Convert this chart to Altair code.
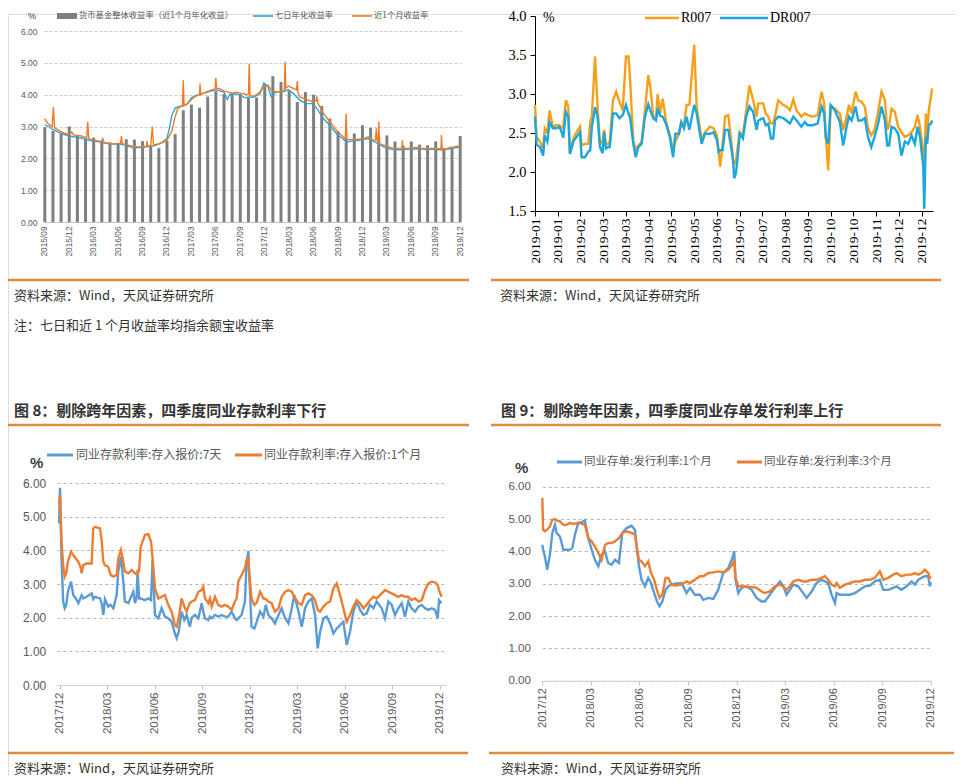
import altair as alt
import pandas as pd

# ---------------- data ----------------
# Panel 1: money-market fund yields (x = months since 2015/09)
p1_names = ["货币基金整体收益率（近1个月年化收益）", "七日年化收益率", "近1个月收益率"]
p1_months = list(range(52))
p1_bar = [2.98, 2.86, 2.77, 3.00, 2.73, 2.62, 2.65, 2.56, 2.50, 2.47,
          2.60, 2.59, 2.54, 2.38, 2.32, 2.55, 2.76, 3.51, 3.69, 3.59,
          3.94, 4.11, 4.02, 4.03, 4.00, 3.90, 3.91, 4.30, 4.58, 4.40,
          4.12, 3.77, 4.08, 4.00, 3.65, 3.25, 2.85, 2.62, 2.78, 3.04,
          2.96, 2.66, 2.72, 2.53, 2.40, 2.53, 2.43, 2.41, 2.53, 2.32,
          2.30, 2.70]
p1_seven = [(0, 3.05), (0.5, 3.0), (1.0, 2.9), (1.5, 2.85), (2.0, 2.78), (2.5, 2.74), (3.0, 2.7), (3.5, 2.68),
            (4.0, 2.66), (4.5, 2.64), (5.0, 2.6), (5.5, 2.57), (6.0, 2.55), (6.5, 2.53), (7.0, 2.5), (7.5, 2.47),
            (8.0, 2.45), (8.5, 2.45), (9.0, 2.45), (9.5, 2.44), (10.0, 2.4), (10.5, 2.36), (11.0, 2.32), (11.5, 2.34),
            (12.0, 2.35), (12.5, 2.36), (13.0, 2.38), (13.5, 2.4), (14.0, 2.45), (14.5, 2.52), (15.0, 2.62), (15.3, 2.95),
            (15.6, 3.35), (16.0, 3.58), (16.5, 3.63), (17.0, 3.65), (17.5, 3.72), (18.0, 3.9), (18.5, 3.97), (19.0, 4.0),
            (19.5, 4.05), (20.0, 4.08), (20.5, 4.12), (21.0, 4.15), (21.5, 4.12), (22.0, 4.08), (22.4, 3.85), (22.7, 4.0),
            (23.0, 4.03), (23.5, 4.02), (24.0, 4.0), (24.5, 3.9), (25.0, 3.93), (25.6, 3.92), (26.4, 4.02), (26.9, 4.37),
            (27.4, 4.25), (27.8, 3.93), (28.4, 4.09), (29.3, 4.1), (29.9, 4.16), (30.5, 4.04), (31.3, 3.83), (32.1, 3.72),
            (32.9, 3.72), (33.4, 3.57), (34.2, 3.25), (35.0, 3.04), (35.8, 2.78), (36.4, 2.65), (37.1, 2.52), (37.9, 2.55),
            (38.5, 2.57), (39.1, 2.59), (39.7, 2.62), (40.3, 2.55), (41.0, 2.45), (41.6, 2.36), (42.2, 2.31), (42.8, 2.28),
            (43.5, 2.27), (44.4, 2.28), (45.0, 2.29), (45.6, 2.3), (46.3, 2.29), (46.9, 2.28), (47.7, 2.28), (48.3, 2.27),
            (48.9, 2.26), (49.7, 2.3), (50.2, 2.32), (50.7, 2.34), (51.0, 2.36)]
p1_month = [(0, 3.25), (0.3, 3.12), (0.6, 3.05), (0.9, 3.0), (1.05, 3.6), (1.2, 2.95), (1.6, 2.9), (2.0, 2.83),
            (2.5, 2.78), (3.0, 2.75), (3.3, 2.83), (3.5, 2.74), (4.0, 2.72), (4.5, 2.7), (5.0, 2.66), (5.15, 2.64),
            (5.27, 3.15), (5.4, 2.62), (6.0, 2.57), (6.5, 2.55), (7.0, 2.52), (7.1, 2.62), (7.3, 2.5), (8.0, 2.47),
            (8.5, 2.46), (9.0, 2.47), (9.3, 2.47), (9.4, 2.7), (9.5, 2.46), (10.0, 2.43), (10.5, 2.4), (11.0, 2.37),
            (11.5, 2.36), (12.0, 2.37), (12.5, 2.38), (12.55, 2.55), (12.65, 2.38), (13.0, 2.4), (13.2, 3.0), (13.35, 2.42),
            (14.0, 2.45), (14.5, 2.5), (15.0, 2.57), (15.6, 2.85), (16.0, 3.3), (16.3, 3.55), (16.6, 3.62), (16.9, 3.64),
            (17.0, 4.45), (17.1, 3.66), (17.5, 3.7), (18.0, 3.85), (18.5, 3.95), (19.0, 4.0), (19.05, 4.35), (19.15, 4.0),
            (19.5, 4.05), (20.0, 4.1), (20.5, 4.15), (20.9, 4.18), (21.0, 4.52), (21.1, 4.2), (21.5, 4.18), (22.0, 4.12),
            (22.5, 4.08), (23.0, 4.05), (23.5, 4.08), (24.0, 4.05), (24.5, 4.02), (25.0, 4.0), (25.1, 4.97), (25.2, 3.97),
            (25.6, 3.95), (26.0, 4.0), (26.4, 4.09), (26.9, 4.25), (27.4, 4.3), (27.8, 4.14), (28.4, 4.09), (29.0, 4.1),
            (29.4, 4.12), (29.5, 5.03), (29.6, 4.2), (29.9, 4.27), (30.5, 4.2), (30.9, 4.15), (31.0, 4.43), (31.1, 4.05),
            (31.3, 3.93), (32.1, 3.85), (32.9, 3.77), (33.3, 3.8), (33.4, 3.95), (33.5, 3.75), (34.2, 3.41), (35.0, 3.15),
            (35.8, 2.88), (36.4, 2.73), (36.9, 2.62), (37.0, 3.41), (37.1, 2.6), (37.9, 2.58), (38.5, 2.6), (39.1, 2.62),
            (39.7, 2.68), (40.3, 2.57), (40.6, 2.58), (40.7, 2.94), (40.8, 2.56), (40.95, 2.5), (41.0, 3.15), (41.1, 2.45),
            (41.6, 2.41), (42.2, 2.36), (42.8, 2.31), (43.5, 2.32), (43.85, 2.33), (43.9, 2.57), (43.95, 2.32), (44.4, 2.31),
            (45.0, 2.33), (45.6, 2.34), (46.3, 2.32), (46.9, 2.31), (47.7, 2.31), (48.3, 2.3), (48.65, 2.3), (48.7, 2.73),
            (48.8, 2.28), (48.9, 2.26), (49.3, 2.3), (49.7, 2.34), (50.2, 2.36), (50.7, 2.38), (51.0, 2.38)]
p1_ticks = ["2015/09", "2015/12", "2016/03", "2016/06", "2016/09", "2016/12", "2017/03", "2017/06", "2017/09",
            "2017/12", "2018/03", "2018/06", "2018/09", "2018/12", "2019/03", "2019/06", "2019/09", "2019/12"]

# Panel 2: R007 / DR007 (x = trading-day index in 2019)
p2_names = ["R007", "DR007"]
p2_idx = [0, 1, 3, 5, 6, 7.6, 9, 11, 13, 15,
          16.4, 17.4, 19, 20.5, 21.5, 23.6, 25.6, 27.7, 28.7, 30.8,
          32.8, 34, 35, 37, 38.5, 40, 41.6, 42.5, 43.7, 45,
          46, 48, 50, 52, 54, 56, 57.6, 58.5, 60.5, 62,
          63.6, 65.6, 67.7, 69.7, 71, 72.8, 74.5, 75.5, 77, 78.6,
          80.6, 83, 85, 86.4, 88.6, 90, 91.7, 93.3, 95, 98,
          99.5, 102.6, 104.6, 107.7, 110, 112, 113, 114, 115.5, 117,
          119, 121, 122, 122.6, 123.7, 125, 126, 128, 130, 132,
          134.3, 136.4, 137.4, 140.5, 142, 143.6, 145.2, 146.6, 147.7, 149.7,
          152.8, 154.8, 156.9, 159, 161, 164, 166, 168, 171, 174,
          176.4, 178, 179, 180.5, 182, 184.6, 187.7, 189.7, 191.8, 193.2,
          194.9, 197.3, 199, 201, 203, 205, 207, 209, 211, 213.3,
          215.4, 216.8, 218, 219.5, 221.5, 223.6, 225.6, 227.7, 229.7, 231.8,
          233.8, 235.5, 237, 239, 239.6, 240.6, 241.4, 242.4, 243.7, 244.5]
p2_r007 = [2.86, 2.45, 2.39, 2.30, 2.56, 2.50, 2.79, 2.58, 2.60, 2.60,
           2.56, 2.58, 2.92, 2.84, 2.24, 2.43, 2.51, 2.58, 2.34, 2.36,
           2.36, 2.64, 2.72, 3.48, 2.84, 2.36, 2.40, 2.54, 2.36, 2.36,
           2.38, 2.92, 3.03, 2.90, 2.79, 3.48, 3.48, 3.20, 2.40, 2.28,
           2.34, 2.38, 2.79, 3.24, 3.09, 2.71, 2.69, 3.00, 2.75, 2.94,
           2.66, 2.47, 2.28, 2.39, 2.49, 2.62, 2.60, 2.86, 2.86, 3.63,
           2.84, 2.41, 2.51, 2.58, 2.56, 2.47, 2.28, 2.07, 2.36, 2.71,
           2.73, 2.36, 2.15, 2.10, 2.15, 2.36, 2.51, 2.47, 2.79, 3.11,
           2.92, 2.71, 2.88, 2.88, 2.75, 2.71, 2.62, 2.62, 2.71, 2.92,
           2.86, 2.84, 2.79, 2.93, 2.79, 2.71, 2.75, 2.73, 2.71, 2.73,
           3.03, 2.88, 2.45, 2.02, 2.84, 2.81, 2.75, 2.54, 2.71, 2.86,
           2.75, 3.03, 2.92, 2.90, 2.84, 2.56, 2.47, 2.54, 2.75, 3.03,
           2.92, 2.54, 2.60, 2.81, 2.77, 2.58, 2.51, 2.45, 2.47, 2.51,
           2.58, 2.73, 2.58, 2.24, 2.07, 2.75, 2.45, 2.79, 2.96, 3.07]
p2_dr007 = [2.71, 2.35, 2.32, 2.21, 2.47, 2.39, 2.64, 2.56, 2.56, 2.58,
            2.51, 2.44, 2.77, 2.71, 2.23, 2.39, 2.45, 2.51, 2.19, 2.19,
            2.26, 2.28, 2.58, 2.83, 2.71, 2.32, 2.24, 2.51, 2.30, 2.32,
            2.32, 2.75, 2.75, 2.69, 2.73, 2.86, 2.75, 2.70, 2.36, 2.19,
            2.32, 2.36, 2.71, 2.87, 2.79, 2.69, 2.66, 2.82, 2.72, 2.71,
            2.62, 2.45, 2.19, 2.49, 2.49, 2.64, 2.56, 2.71, 2.54, 2.86,
            2.75, 2.36, 2.49, 2.49, 2.51, 2.41, 2.26, 2.28, 2.28, 2.54,
            2.54, 2.28, 2.13, 1.92, 1.98, 2.24, 2.49, 2.43, 2.71, 2.84,
            2.77, 2.54, 2.66, 2.69, 2.60, 2.62, 2.43, 2.43, 2.66, 2.71,
            2.69, 2.66, 2.62, 2.71, 2.66, 2.58, 2.64, 2.60, 2.60, 2.62,
            2.84, 2.75, 2.45, 2.36, 2.86, 2.79, 2.64, 2.34, 2.58, 2.71,
            2.66, 2.84, 2.66, 2.66, 2.69, 2.45, 2.32, 2.45, 2.60, 2.84,
            2.66, 2.34, 2.34, 2.58, 2.56, 2.49, 2.21, 2.39, 2.36, 2.47,
            2.36, 2.58, 2.45, 2.07, 1.53, 2.45, 2.36, 2.60, 2.62, 2.66]
p2_ticks = ["2019-01", "2019-01", "2019-02", "2019-03", "2019-03", "2019-04", "2019-05", "2019-05", "2019-06",
            "2019-07", "2019-07", "2019-08", "2019-09", "2019-10", "2019-10", "2019-11", "2019-12", "2019-12"]

# Panel 3: interbank deposit rates (x = months since 2017/12)
p3_names = ["同业存款利率:存入报价:7天", "同业存款利率:存入报价:1个月"]
p3_7d = [(-0.05, 4.8), (0.0, 5.86), (0.1, 3.76), (0.2, 2.48), (0.3, 2.28), (0.4, 2.38), (0.5, 2.77), (0.7, 3.07),
         (0.84, 2.67), (1.0, 2.57), (1.16, 2.43), (1.37, 2.67), (1.47, 2.57), (1.68, 2.62), (2.0, 2.72), (2.1, 2.55),
         (2.21, 2.62), (2.53, 2.57), (2.63, 2.43), (2.74, 2.08), (2.84, 2.55), (3.05, 2.33), (3.2, 2.38), (3.37, 2.28),
         (3.58, 2.67), (3.68, 3.37), (3.85, 3.81), (4.0, 3.07), (4.1, 2.48), (4.32, 2.43), (4.53, 2.67), (4.63, 2.77),
         (4.74, 2.43), (4.84, 2.6), (4.9, 3.42), (5.0, 2.57), (5.1, 2.57), (5.37, 2.52), (5.58, 2.57), (5.75, 2.52),
         (5.85, 3.71), (6.0, 2.08), (6.21, 1.98), (6.42, 2.28), (6.63, 2.03), (6.84, 1.98), (7.05, 1.88), (7.26, 1.53),
         (7.37, 1.39), (7.5, 1.58), (7.68, 2.18), (7.85, 1.93), (8.0, 2.08), (8.2, 1.73), (8.32, 2.0), (8.53, 2.08),
         (8.74, 1.98), (8.95, 2.43), (9.05, 2.18), (9.16, 1.98), (9.37, 1.93), (9.47, 2.03), (9.58, 1.98), (9.79, 2.08),
         (10.0, 2.03), (10.2, 2.08), (10.42, 2.03), (10.63, 2.03), (10.84, 2.18), (11.05, 1.98), (11.16, 1.93), (11.26, 1.98),
         (11.47, 2.08), (11.68, 2.48), (11.79, 3.66), (11.9, 3.98), (11.94, 3.47), (12.1, 1.73), (12.28, 1.68), (12.43, 1.88),
         (12.64, 2.18), (12.85, 2.03), (13.0, 2.38), (13.16, 2.08), (13.37, 1.98), (13.58, 1.83), (13.8, 2.08), (14.0, 2.28),
         (14.22, 1.98), (14.43, 1.83), (14.64, 2.28), (14.8, 2.67), (15.06, 2.2), (15.27, 1.73), (15.48, 2.28), (15.69, 2.48),
         (15.9, 2.57), (16.11, 2.08), (16.28, 1.09), (16.43, 1.58), (16.64, 1.98), (16.85, 2.03), (17.06, 1.83), (17.27, 1.53),
         (17.48, 1.68), (17.69, 1.78), (17.9, 1.88), (18.11, 1.19), (18.32, 1.58), (18.53, 2.18), (18.74, 2.48), (18.95, 2.23),
         (19.16, 2.08), (19.37, 2.13), (19.58, 2.38), (19.8, 2.28), (20.0, 2.48), (20.32, 2.28), (20.53, 1.98), (20.74, 2.48),
         (20.95, 2.38), (21.16, 2.08), (21.37, 2.28), (21.58, 2.43), (21.79, 2.03), (22.0, 2.48), (22.2, 2.28), (22.43, 2.18),
         (22.64, 2.33), (22.85, 2.38), (23.06, 2.28), (23.27, 2.23), (23.48, 2.28), (23.69, 2.23), (23.86, 1.98), (23.94, 2.52),
         (24.1, 2.43)]
p3_1m = [(-0.05, 5.35), (0.0, 5.64), (0.1, 4.26), (0.2, 3.56), (0.3, 3.22), (0.4, 3.32), (0.5, 3.66), (0.7, 3.96),
         (0.84, 3.86), (1.0, 3.76), (1.16, 3.66), (1.3, 3.5), (1.37, 3.32), (1.47, 3.56), (1.68, 3.61), (2.0, 3.61),
         (2.1, 4.65), (2.21, 4.7), (2.53, 4.65), (2.63, 4.31), (2.74, 3.66), (2.84, 3.56), (3.05, 3.51), (3.2, 3.27),
         (3.37, 3.22), (3.58, 3.27), (3.68, 3.76), (3.85, 4.01), (4.0, 3.66), (4.1, 3.37), (4.32, 3.32), (4.53, 3.42),
         (4.74, 3.32), (4.9, 3.27), (5.0, 3.42), (5.1, 4.1), (5.37, 4.46), (5.58, 4.48), (5.75, 4.26), (5.85, 3.76),
         (6.0, 2.87), (6.21, 2.57), (6.42, 2.62), (6.63, 2.67), (6.84, 2.38), (7.05, 2.18), (7.26, 1.78), (7.37, 1.73),
         (7.5, 1.98), (7.68, 2.57), (7.85, 2.33), (8.0, 2.18), (8.2, 2.43), (8.32, 2.48), (8.53, 2.52), (8.74, 2.77),
         (8.95, 2.82), (9.05, 2.92), (9.16, 2.57), (9.37, 2.43), (9.47, 2.57), (9.58, 2.33), (9.79, 2.62), (10.0, 2.38),
         (10.2, 2.33), (10.42, 2.38), (10.63, 2.33), (10.84, 2.23), (11.05, 2.48), (11.16, 2.57), (11.26, 3.07), (11.47, 3.27),
         (11.68, 3.47), (11.79, 3.71), (11.9, 3.76), (11.94, 3.37), (12.1, 2.57), (12.28, 2.38), (12.43, 2.45), (12.64, 2.77),
         (12.85, 2.57), (13.0, 2.55), (13.16, 2.48), (13.37, 2.43), (13.58, 2.18), (13.8, 2.28), (14.0, 2.62), (14.22, 2.77),
         (14.43, 2.82), (14.64, 2.77), (14.8, 2.62), (15.06, 2.43), (15.27, 2.38), (15.48, 2.67), (15.69, 2.72), (15.9, 2.67),
         (16.11, 2.52), (16.28, 2.23), (16.43, 2.18), (16.64, 2.33), (16.85, 2.43), (17.06, 2.48), (17.27, 2.87), (17.48, 3.02),
         (17.69, 2.67), (17.9, 2.28), (18.11, 1.88), (18.32, 2.08), (18.53, 2.33), (18.74, 2.52), (18.95, 2.43), (19.16, 2.28),
         (19.37, 2.38), (19.58, 2.52), (19.8, 2.62), (20.0, 2.57), (20.32, 2.72), (20.53, 2.82), (20.74, 2.77), (20.95, 2.72),
         (21.16, 2.67), (21.37, 2.62), (21.58, 2.67), (21.79, 2.62), (22.0, 2.62), (22.2, 2.52), (22.43, 2.57), (22.64, 2.48),
         (22.85, 2.52), (23.06, 2.82), (23.27, 3.02), (23.48, 3.07), (23.69, 3.05), (23.86, 2.97), (23.94, 2.82), (24.1, 2.62)]
p34_ticks = ["2017/12", "2018/03", "2018/06", "2018/09", "2018/12", "2019/03", "2019/06", "2019/09", "2019/12"]

# Panel 4: interbank CD issuance rates (x = months since 2017/12)
p4_names = ["同业存单:发行利率:1个月", "同业存单:发行利率:3个月"]
p4_1m = [(0, 4.2), (0.05, 4.05), (0.16, 3.85), (0.3, 3.43), (0.47, 3.9), (0.62, 4.57), (0.78, 4.82), (0.88, 4.57),
         (1.09, 4.46), (1.3, 4.05), (1.5, 4.05), (1.7, 4.05), (1.85, 4.1), (2.02, 4.52), (2.22, 4.88), (2.43, 4.9),
         (2.63, 4.96), (2.84, 4.41), (3.05, 4.05), (3.25, 3.74), (3.46, 3.54), (3.66, 3.9), (3.87, 4.0), (4.07, 3.64),
         (4.28, 3.59), (4.49, 3.74), (4.73, 3.64), (4.94, 4.57), (5.2, 4.72), (5.51, 4.79), (5.72, 4.67), (5.82, 4.15),
         (5.97, 3.54), (6.13, 3.12), (6.34, 2.92), (6.54, 3.18), (6.71, 3.02), (6.91, 2.71), (7.08, 2.45), (7.24, 2.3),
         (7.41, 2.45), (7.61, 2.81), (7.78, 2.92), (7.98, 2.97), (8.19, 3.0), (8.6, 3.02), (8.91, 2.71), (9.12, 2.87),
         (9.42, 2.66), (9.73, 2.66), (9.94, 2.5), (10.25, 2.56), (10.56, 2.53), (10.86, 2.81), (11.17, 3.33), (11.48, 3.48),
         (11.73, 3.79), (11.85, 4.0), (11.93, 3.12), (12.1, 2.71), (12.3, 2.87), (12.61, 2.92), (12.92, 2.81), (13.23, 2.56),
         (13.54, 2.45), (13.74, 2.45), (14.05, 2.66), (14.36, 2.87), (14.67, 3.07), (14.88, 2.92), (15.08, 2.66), (15.29, 2.81),
         (15.49, 2.97), (15.8, 2.92), (16.11, 2.71), (16.32, 2.56), (16.63, 2.76), (16.93, 3.02), (17.24, 3.12), (17.45, 3.07),
         (17.65, 3.02), (17.86, 2.66), (18.07, 2.4), (18.17, 2.71), (18.37, 2.66), (18.68, 2.66), (18.99, 2.66), (19.3, 2.71),
         (19.61, 2.81), (19.92, 2.92), (20.23, 2.94), (20.53, 3.07), (20.84, 3.12), (21.05, 2.81), (21.36, 2.81), (21.67, 2.87),
         (21.87, 2.92), (22.18, 2.81), (22.49, 2.92), (22.8, 3.07), (23.0, 2.97), (23.21, 3.12), (23.42, 3.18), (23.62, 3.23),
         (23.83, 3.23), (23.93, 2.92), (24.0, 3.05)]
p4_3m = [(0, 5.65), (0.05, 4.67), (0.16, 4.62), (0.3, 4.67), (0.47, 4.77), (0.62, 4.98), (0.78, 5.0), (0.88, 4.96),
         (1.09, 4.93), (1.3, 4.82), (1.5, 4.82), (1.7, 4.88), (1.85, 4.85), (2.02, 4.86), (2.22, 4.88), (2.43, 4.86),
         (2.63, 4.82), (2.84, 4.41), (3.05, 4.31), (3.25, 4.15), (3.46, 3.95), (3.66, 3.74), (3.87, 4.2), (4.07, 4.26),
         (4.28, 4.26), (4.49, 4.31), (4.73, 4.41), (4.94, 4.57), (5.2, 4.62), (5.51, 4.57), (5.72, 4.52), (5.82, 4.2),
         (5.97, 3.74), (6.13, 3.69), (6.34, 3.54), (6.54, 3.69), (6.71, 3.33), (6.91, 3.12), (7.08, 2.81), (7.24, 2.56),
         (7.41, 2.66), (7.61, 3.18), (7.78, 3.18), (7.98, 2.97), (8.19, 2.94), (8.6, 2.97), (8.91, 3.07), (9.12, 3.02),
         (9.42, 3.12), (9.73, 3.23), (9.94, 3.23), (10.25, 3.33), (10.56, 3.35), (10.86, 3.38), (11.17, 3.35), (11.48, 3.43),
         (11.73, 3.59), (11.85, 3.74), (11.93, 3.18), (12.1, 2.92), (12.3, 2.92), (12.61, 2.9), (12.92, 2.9), (13.23, 2.87),
         (13.54, 2.76), (13.74, 2.71), (14.05, 2.76), (14.36, 2.92), (14.67, 2.97), (14.88, 2.92), (15.08, 2.81), (15.29, 2.92),
         (15.49, 3.07), (15.8, 3.12), (16.11, 3.07), (16.32, 3.07), (16.63, 3.12), (16.93, 3.12), (17.24, 3.18), (17.45, 3.23),
         (17.65, 3.12), (17.86, 2.97), (18.07, 2.92), (18.17, 3.02), (18.37, 2.87), (18.68, 2.97), (18.99, 3.02), (19.3, 3.07),
         (19.61, 3.07), (19.92, 3.12), (20.23, 3.12), (20.53, 3.18), (20.84, 3.38), (21.05, 3.12), (21.36, 3.18), (21.67, 3.28),
         (21.87, 3.33), (22.18, 3.23), (22.49, 3.28), (22.8, 3.28), (23.0, 3.33), (23.21, 3.28), (23.42, 3.33), (23.62, 3.43),
         (23.83, 3.33), (23.93, 3.18), (24.0, 3.22)]

texts_src = "资料来源：Wind，天风证券研究所"
text_note = "注：七日和近 1 个月收益率均指余额宝收益率"
title8 = "图 8：剔除跨年因素，四季度同业存款利率下行"
title9 = "图 9：剔除跨年因素，四季度同业存单发行利率上行"

# ---------------- helpers ----------------
assert len(p2_idx) == len(p2_r007) == len(p2_dr007)
PT = 6                      # top padding of the view
W, H = 948, 768 - PT
CJK = "Noto Sans CJK SC"
SANS = "Liberation Sans"
SERIF = "Liberation Serif"
ORANGE_RULE = "#E08A3C"
one = pd.DataFrame({"d": [0]})


def gx(v):
    return v - 8


def gy(v):
    return v - 8 - PT


def lab_expr(labels, step):
    return "[" + ",".join("'" + s + "'" for s in labels) + "][round(datum.value/" + str(step) + ")]"


def pairs_df(pairs):
    return pd.DataFrame({"x": [p[0] for p in pairs], "y": [p[1] for p in pairs]})


def text(s, px, py, size, color="#333333", font=CJK, weight="normal", align="left"):
    return alt.Chart(one).mark_text(text=s, fontSize=size, font=font, color=color, fontWeight=weight,
                                    align=align, baseline="middle").encode(x=alt.value(gx(px)), y=alt.value(gy(py)))


def hrule(x1, x2, py, color, width):
    return alt.Chart(one).mark_rule(color=color, strokeWidth=width).encode(
        x=alt.value(gx(x1)), x2=alt.value(gx(x2)), y=alt.value(gy(py)))


def line(df, xs, ys, ax, ay, color, width):
    return alt.Chart(df).mark_line(color=color, strokeWidth=width).encode(
        x=alt.X("x:Q", scale=xs, axis=ax), y=alt.Y("y:Q", scale=ys, axis=ay))


# ---------------- panel 1 ----------------
x1 = alt.Scale(domain=[-0.1, 51.1], range=[gx(44), gx(461)], nice=False, zero=False, padding=0)
y1 = alt.Scale(domain=[0, 6], range=[gy(222), gy(31)], nice=False, zero=False)
ax1x = alt.Axis(orient="bottom", offset=gy(222) - H, values=list(range(0, 52, 3)), labelExpr=lab_expr(p1_ticks, 3),
                labelAngle=-90, labelFont=SANS, labelFontSize=8.3, labelColor="#595959", labelPadding=4,
                ticks=False, domainColor="#bfbfbf", grid=False, labelOverlap=False, labelFlush=False, title=None)
ax1y = alt.Axis(orient="left", offset=-gx(44), values=[0, 1, 2, 3, 4, 5, 6], format=".2f", labelFont=SANS,
                labelFontSize=8.5, labelColor="#595959", labelPadding=7, ticks=False, domain=False, grid=True,
                gridColor="#c0c0c0", gridDash=[3, 2], gridWidth=0.8, labelFlush=False, labelOverlap=False, title=None)
bars1 = alt.Chart(pd.DataFrame({"x": p1_months, "y": p1_bar})).mark_bar(size=3, color="#7f7f7f").encode(
    x=alt.X("x:Q", scale=x1, axis=ax1x), y=alt.Y("y:Q", scale=y1, axis=ax1y))
panel1 = alt.layer(bars1,
                   line(pairs_df(p1_seven), x1, y1, ax1x, ax1y, "#27a6df", 1.4),
                   line(pairs_df(p1_month), x1, y1, ax1x, ax1y, "#f07b26", 1.4))

# ---------------- panel 2 ----------------
x2 = alt.Scale(domain=[0, 245], range=[gx(535), gx(933)], nice=False, zero=False, padding=0)
y2 = alt.Scale(domain=[1.5, 4.0], range=[gy(211), gy(16)], nice=False, zero=False)
ax2x = alt.Axis(orient="bottom", offset=gy(211) - H, values=list(range(0, 239, 14)), labelExpr=lab_expr(p2_ticks, 14),
                labelAngle=-90, labelFont=SERIF, labelFontSize=13.5, labelColor="#000000", labelPadding=2,
                ticks=True, tickSize=5, tickColor="#000000", domainColor="#000000", grid=False,
                labelOverlap=False, labelFlush=False, title=None)
ax2y = alt.Axis(orient="left", offset=-gx(535), values=[1.5, 2.0, 2.5, 3.0, 3.5, 4.0], format=".1f", labelFont=SERIF,
                labelFontSize=14.5, labelColor="#000000", labelPadding=4, ticks=True, tickSize=5,
                tickColor="#000000", domainColor="#000000", grid=False, labelFlush=False, labelOverlap=False,
                title=None)
panel2 = alt.layer(line(pd.DataFrame({"x": p2_idx, "y": p2_r007}), x2, y2, ax2x, ax2y, "#f5a01a", 2.4),
                   line(pd.DataFrame({"x": p2_idx, "y": p2_dr007}), x2, y2, ax2x, ax2y, "#1ba6de", 2.4))

# ---------------- panel 3 ----------------
x3 = alt.Scale(domain=[-0.2, 24.4], range=[gx(56.8), gx(446.3)], nice=False, zero=False, padding=0)
y3 = alt.Scale(domain=[0, 6], range=[gy(685), gy(483)], nice=False, zero=False)
ax3x = alt.Axis(orient="bottom", offset=gy(685) - H, values=list(range(0, 25, 3)), labelExpr=lab_expr(p34_ticks, 3),
                labelAngle=-90, labelFont=SANS, labelFontSize=11.5, labelColor="#595959", labelPadding=3,
                ticks=True, tickSize=4, tickColor="#bfbfbf", domainColor="#d0d0d0", grid=False,
                labelOverlap=False, labelFlush=False, title=None)
ax3y = alt.Axis(orient="left", offset=-gx(56.8), values=[0, 1, 2, 3, 4, 5, 6], format=".2f", labelFont=SANS,
                labelFontSize=12, labelColor="#595959", labelPadding=11, ticks=False, domain=False, grid=True,
                gridColor="#a6a6a6", gridDash=[3, 3], gridWidth=0.8, labelFlush=False, labelOverlap=False, title=None)
panel3 = alt.layer(line(pairs_df(p3_7d), x3, y3, ax3x, ax3y, "#5b9bd5", 2.4),
                   line(pairs_df(p3_1m), x3, y3, ax3x, ax3y, "#ed7d31", 2.4))

# ---------------- panel 4 ----------------
x4 = alt.Scale(domain=[0, 24.05], range=[gx(542.3), gx(931.8)], nice=False, zero=False, padding=0)
y4 = alt.Scale(domain=[0, 6], range=[gy(680.7), gy(486.7)], nice=False, zero=False)
ax4x = alt.Axis(orient="bottom", offset=gy(680.7) - H, values=list(range(0, 25, 3)), labelExpr=lab_expr(p34_ticks, 3),
                labelAngle=-90, labelFont=SANS, labelFontSize=11, labelColor="#595959", labelPadding=3,
                ticks=True, tickSize=4, tickColor="#bfbfbf", domainColor="#d0d0d0", grid=False,
                labelOverlap=False, labelFlush=False, title=None)
ax4y = alt.Axis(orient="left", offset=-gx(542.3), values=[0, 1, 2, 3, 4, 5, 6], format=".2f", labelFont=SANS,
                labelFontSize=11.5, labelColor="#595959", labelPadding=12, ticks=False, domain=False, grid=True,
                gridColor="#a6a6a6", gridDash=[3, 3], gridWidth=0.8, labelFlush=False, labelOverlap=False, title=None)
panel4 = alt.layer(line(pairs_df(p4_1m), x4, y4, ax4x, ax4y, "#5b9bd5", 2.4),
                   line(pairs_df(p4_3m), x4, y4, ax4x, ax4y, "#ed7d31", 2.4))

# ---------------- legends, notes, frames ----------------
LY1 = 16
decor = [
    # panel 1 legend
    text("%", 28, LY1, 9, "#404040", SANS),
    hrule(57, 77, LY1, "#7f7f7f", 6), text(p1_names[0], 79, LY1, 8.3, "#595959"),
    hrule(253, 273, LY1, "#27a6df", 1.6), text(p1_names[1], 275, LY1, 8.3, "#595959"),
    hrule(352, 372, LY1, "#f07b26", 1.6), text(p1_names[2], 374, LY1, 8.3, "#595959"),
    # panel 2 legend
    text("%", 543, 18, 14, "#000000", SERIF),
    hrule(645, 679, 18, "#f5a01a", 2.4), text(p2_names[0], 681, 18, 14, "#000000", SERIF),
    hrule(720, 768, 18, "#1ba6de", 2.4), text(p2_names[1], 770, 18, 14, "#000000", SERIF),
    # panel 3 legend
    text("%", 30, 463, 15, "#404040", SANS, "bold"),
    hrule(47, 73, 455, "#5b9bd5", 3), text(p3_names[0], 76, 455, 12, "#595959"),
    hrule(235, 262, 455, "#ed7d31", 3), text(p3_names[1], 264, 455, 12, "#595959"),
    # panel 4 legend
    text("%", 515, 468, 15, "#404040", SANS, "bold"),
    hrule(557, 582, 462, "#5b9bd5", 3), text(p4_names[0], 584, 462, 11.5, "#595959"),
    hrule(737, 762, 462, "#ed7d31", 3), text(p4_names[1], 764, 462, 11.5, "#595959"),
    # orange frame lines
    hrule(8, 469, 280, ORANGE_RULE, 2.5), hrule(491, 941, 280, ORANGE_RULE, 2.5),
    hrule(8, 469, 425, ORANGE_RULE, 2.5), hrule(491, 941, 425, ORANGE_RULE, 2.5),
    hrule(8, 468, 753, ORANGE_RULE, 2.5), hrule(489, 954, 753, ORANGE_RULE, 2.5),
    # source, note and figure titles
    text(texts_src, 14, 296, 13), text(texts_src, 500, 296, 13),
    text(text_note, 14, 326, 13),
    text(title8, 14, 411, 15, "#333333", CJK, "bold"), text(title9, 501, 411, 15, "#333333", CJK, "bold"),
    text(texts_src, 14, 769, 13), text(texts_src, 501, 769, 13),
]

chart = alt.layer(panel1, panel2, panel3, panel4, *decor).resolve_scale(
    x="independent", y="independent"
).properties(
    width=W, height=H, autosize=alt.AutoSizeParams(type="none"),
    padding={"left": 0, "top": PT, "right": 0, "bottom": 0}
).configure_view(stroke=None).configure(background="white")

chart.save("out.html", embed_options={"renderer": "svg", "actions": False})
